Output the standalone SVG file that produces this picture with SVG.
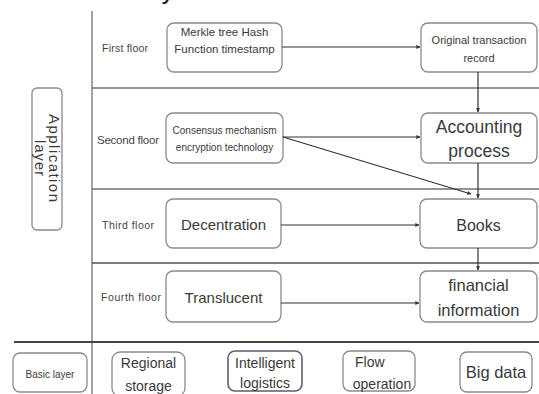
<svg xmlns="http://www.w3.org/2000/svg" width="539" height="394" viewBox="0 0 539 394">
<style>
.bg{fill:#ffffff}
.sep{stroke:#707070;stroke-width:1.3;fill:none}
.box{fill:#ffffff;stroke:#8a8a8a;stroke-width:1.3}
.t{font-family:"Liberation Sans",Arial,sans-serif;fill:#3a3a3a;text-anchor:middle}
.lbl{font-family:"Liberation Sans",Arial,sans-serif;fill:#444;text-anchor:middle}
.con{stroke:#333;stroke-width:1.2;fill:none;marker-end:url(#ah)}
</style>
<defs>
<marker id="ah" viewBox="0 0 6 6" refX="5.5" refY="3" markerWidth="4" markerHeight="4" orient="auto" markerUnits="userSpaceOnUse">
<path d="M0,0 L6,3 L0,6 z" fill="#333"/>
</marker>
</defs>
<rect class="bg" x="0" y="0" width="539" height="394"/>
<text x="168" y="-1" font-family="Liberation Sans, sans-serif" font-size="26" fill="#222" text-anchor="middle">y</text>

<g id="grid">
<line class="sep" x1="92" y1="11" x2="92" y2="394"/>
<line class="sep" x1="92" y1="88" x2="539" y2="88"/>
<line class="sep" x1="92" y1="189" x2="539" y2="189"/>
<line class="sep" x1="92" y1="263" x2="539" y2="263" style="stroke:#505050"/>
<line class="sep" x1="14" y1="342" x2="539" y2="342" style="stroke:#444;stroke-width:1.8"/>
</g>

<g id="floor-labels">
<text class="lbl" x="125" y="52" font-size="10.5" textLength="46">First floor</text>
<text class="lbl" x="128" y="144" font-size="11.5" textLength="62">Second floor</text>
<text class="lbl" x="128" y="229" font-size="10.5" textLength="52">Third floor</text>
<text class="lbl" x="131" y="301" font-size="10.5" textLength="60">Fourth floor</text>
</g>

<g id="application-layer">
<rect class="box" x="32" y="88" width="30" height="142" rx="5"/>
<g transform="translate(47,158) rotate(90)">
<text class="t" x="0" y="-2" font-size="15" textLength="88">Application</text>
<text class="t" x="0" y="12" font-size="14.5" textLength="36">layer</text>
</g>
</g>

<g id="n-merkle">
<rect class="box" x="167" y="23" width="115" height="49" rx="7"/>
<text class="t" x="224.5" y="36" font-size="11.5">Merkle tree Hash</text>
<text class="t" x="224.5" y="53" font-size="11.5">Function timestamp</text>
</g>
<g id="n-consensus">
<rect class="box" x="166" y="113" width="117" height="50" rx="7"/>
<text class="t" x="224.5" y="134" font-size="10">Consensus mechanism</text>
<text class="t" x="224.5" y="151" font-size="10">encryption technology</text>
</g>
<g id="n-decentration">
<rect class="box" x="166" y="199" width="115" height="49" rx="7"/>
<text class="t" x="223.5" y="229.5" font-size="15">Decentration</text>
</g>
<g id="n-translucent">
<rect class="box" x="166" y="271" width="115" height="51" rx="7"/>
<text class="t" x="223.5" y="302.5" font-size="15">Translucent</text>
</g>

<g id="n-original">
<rect class="box" x="421" y="23" width="116" height="49" rx="7"/>
<text class="t" x="479" y="44" font-size="11">Original transaction</text>
<text class="t" x="479" y="61.5" font-size="11">record</text>
</g>
<g id="n-accounting">
<rect class="box" x="421" y="113" width="116" height="50" rx="7"/>
<text class="t" x="479" y="133" font-size="17.5">Accounting</text>
<text class="t" x="479" y="157" font-size="17.5">process</text>
</g>
<g id="n-books">
<rect class="box" x="420" y="199" width="117" height="49" rx="7"/>
<text class="t" x="478.5" y="230.5" font-size="16">Books</text>
</g>
<g id="n-financial">
<rect class="box" x="420" y="271" width="117" height="51" rx="7"/>
<text class="t" x="478.5" y="291" font-size="16.5">financial</text>
<text class="t" x="478.5" y="316" font-size="16.5">information</text>
</g>

<g id="n-basic">
<rect class="box" x="13" y="353" width="74" height="39" rx="7"/>
<text class="t" x="50" y="377.5" font-size="10">Basic layer</text>
</g>
<g id="n-regional">
<rect class="box" x="112" y="352" width="73" height="44" rx="8"/>
<text class="t" x="148.5" y="368" font-size="14">Regional</text>
<text class="t" x="148.5" y="391" font-size="14">storage</text>
</g>
<g id="n-intelligent">
<rect class="box" x="228" y="351" width="74" height="40" rx="7" style="stroke:#5a6270;stroke-width:1.6"/>
<text class="t" x="265" y="367.5" font-size="14">Intelligent</text>
<text class="t" x="265" y="387.5" font-size="14">logistics</text>
</g>
<g id="n-flow">
<rect class="box" x="343" y="351" width="72" height="40" rx="7"/>
<text class="t" x="355" y="367" font-size="14" style="text-anchor:start">Flow</text>
<text class="t" x="382" y="388.5" font-size="14">operation</text>
</g>
<g id="n-bigdata">
<rect class="box" x="460" y="352" width="72" height="40" rx="7"/>
<text class="t" x="496" y="378" font-size="16.5">Big data</text>
</g>

<g id="connectors">
<line class="con" x1="282" y1="47" x2="420" y2="47"/>
<line class="con" x1="478" y1="72" x2="478" y2="112"/>
<line class="con" x1="283" y1="137" x2="420" y2="137"/>
<line class="con" x1="283" y1="137" x2="471" y2="194"/>
<line class="con" x1="478" y1="163" x2="478" y2="198"/>
<line class="con" x1="281" y1="225" x2="419" y2="225"/>
<line class="con" x1="478" y1="248" x2="478" y2="270"/>
<line class="con" x1="281" y1="303" x2="419" y2="303"/>
</g>
</svg>
